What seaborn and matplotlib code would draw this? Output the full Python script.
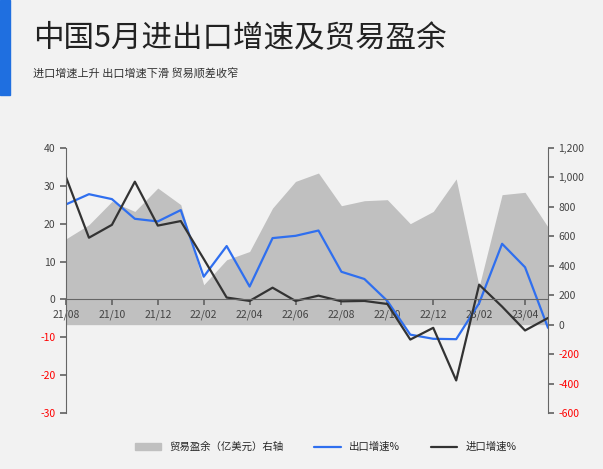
import matplotlib
matplotlib.use("Agg")
import matplotlib.pyplot as plt
import seaborn as sns
import pandas as pd
from matplotlib.patches import Patch, Rectangle
from matplotlib.lines import Line2D

months = ["21/08","21/09","21/10","21/11","21/12","22/01","22/02","22/03","22/04","22/05","22/06",
          "22/07","22/08","22/09","22/10","22/11","22/12","23/01","23/02","23/03","23/04","23/05"]
surplus = [583,679,837,769,928,815,271,441,497,792,973,1030,808,842,849,686,769,990,259,883,899,663]
export = [25.1,27.8,26.5,21.3,20.6,23.6,6.0,14.1,3.4,16.2,16.8,18.2,7.3,5.4,-0.4,-9.3,-10.4,-10.5,-1.0,14.7,8.5,-7.5]
imports = [32.3,16.3,19.7,31.1,19.5,20.7,10.7,0.5,-0.4,3.1,-0.4,1.0,-0.5,-0.4,-1.2,-10.6,-7.5,-21.4,3.9,-1.9,-8.2,-4.9]
tick_labels = months[::2]

sns.set_theme(style="white")
plt.rcParams['font.family'] = ['Noto Sans CJK SC', 'DejaVu Sans']
plt.rcParams['axes.unicode_minus'] = False
bg = "#f2f2f2"
df = pd.DataFrame({"x": range(len(months)), "surplus": surplus, "export": export, "imports": imports})

fig = plt.figure(figsize=(6.03, 4.69), dpi=100, facecolor=bg)
ax = fig.add_axes([66/603, 1-413/469, (548-66)/603, (413-148)/469])
ax.set_facecolor(bg)
ax2 = ax.twinx()
ax.set_zorder(ax2.get_zorder()+1); ax.patch.set_visible(False)
ax2.fill_between(df["x"], 0, df["surplus"], color="#c0c0c0", lw=0)
ax2.set_ylim(-600, 1200)
ax2.set_yticks(range(-600, 1201, 200))
ax2.set_yticklabels([f"{v:,}" for v in range(-600, 1201, 200)])
sns.lineplot(data=df, x="x", y="export", ax=ax, color="#2f6fef", lw=1.6)
sns.lineplot(data=df, x="x", y="imports", ax=ax, color="#333333", lw=1.6)
ax.set_ylim(-30, 40)
ax.set_xlim(0, len(months)-1)
ax.set_yticks(range(-30, 41, 10))
ax.set_yticklabels([str(v) for v in range(-30, 41, 10)])
ax.set_xticks(range(0, len(months), 2))
ax.set_xticklabels(tick_labels)
ax.set_xlabel(""); ax.set_ylabel("")
for s in ["top", "right"]:
    ax.spines[s].set_visible(False)
for s in ["top", "left", "bottom"]:
    ax2.spines[s].set_visible(False)
ax.spines["bottom"].set_position(("data", 0))
for a in (ax, ax2):
    for s in a.spines.values():
        s.set_color("#666666"); s.set_linewidth(0.8)
ax.tick_params(axis="both", length=4, color="#666666", labelsize=7.5, labelcolor="#444444", direction="out", left=True, bottom=True)
ax2.tick_params(axis="y", length=4, color="#666666", labelsize=7.5, labelcolor="#444444", right=True)
for t, v in zip(ax.get_yticklabels(), range(-30, 41, 10)):
    if v < 0: t.set_color("red")
for t, v in zip(ax2.get_yticklabels(), range(-600, 1201, 200)):
    if v < 0: t.set_color("red")

fig.patches.append(Rectangle((0, 1-95/469), 10/603, 95/469, transform=fig.transFigure, color="#1f6fe0"))
fig.text(33/603, 1-38/469, "中国5月进出口增速及贸易盈余", fontsize=22, color="#222222", va="center")
fig.text(33/603, 1-74/469, "进口增速上升 出口增速下滑 贸易顺差收窄", fontsize=8, color="#333333", va="center")

handles = [Patch(color="#c0c0c0", label="贸易盈余（亿美元）右轴"),
           Line2D([], [], color="#2f6fef", lw=1.6, label="出口增速%"),
           Line2D([], [], color="#333333", lw=1.6, label="进口增速%")]
fig.legend(handles=handles, loc="center", bbox_to_anchor=(0.54, 1-447/469), ncol=3, frameon=False,
           fontsize=7.5, handlelength=2.5, columnspacing=3)
fig.savefig("out.png", dpi=100, facecolor=bg)
